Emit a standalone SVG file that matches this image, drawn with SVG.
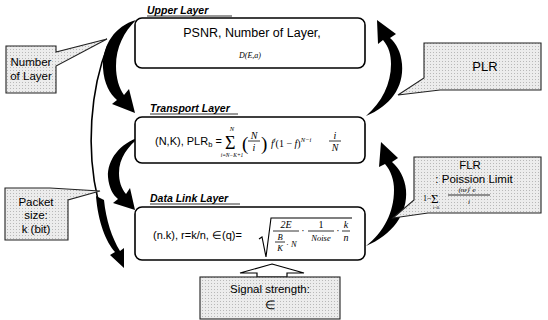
<svg xmlns="http://www.w3.org/2000/svg" width="548" height="320" viewBox="0 0 548 320">
<style>
.box{fill:#fff;stroke:#000;stroke-width:1.6}
.call{fill:url(#dots);stroke:#222;stroke-width:1.1}
.lbl{font-family:"Liberation Sans",Arial,sans-serif;font-weight:bold;font-style:italic;font-size:10.5px}
.t{font-family:"Liberation Sans",Arial,sans-serif;font-size:12.5px}
.ct{font-family:"Liberation Sans",Arial,sans-serif;font-size:11.5px;text-anchor:middle}
.m{font-family:"Liberation Serif","Times New Roman",serif;font-style:italic;font-size:10px}
.mr{font-family:"Liberation Serif","Times New Roman",serif;font-size:10px}
.s{font-size:6.5px}
.c{text-anchor:middle}
.arr{fill:#000}
.ln{stroke:#000;stroke-width:0.8;fill:none}
</style>
<defs>
<pattern id="dots" width="3" height="3" patternUnits="userSpaceOnUse">
<rect width="3" height="3" fill="#ececec"/>
<rect x="1" y="1" width="1" height="1" fill="#b8b8b8"/>
</pattern>
</defs>
<rect width="548" height="320" fill="#fff"/>

<g id="connectors">
<path class="arr" d="M136,20 C115,26 102,45 103,68 C104,84 110,94 117,100 L112,104 L135,113 L129,89 L124,95 C119,88 116,78 116,66 C116,47 124,32 136,20 Z"/>
<path class="arr" d="M140,137 C120,143 107,160 108,177 C109,188 113,195 118,199 L113,203 L135,210 L130,188 L126,194 C121,188 119,181 119,173 C119,158 128,146 140,137 Z"/>
<path d="M108,45 C90,90 86,150 98,200" fill="none" stroke="#000" stroke-width="1.6"/>
<path class="arr" d="M96,196 C98,222 106,242 115,252 L110,255 L124,268 L124,248 L120,251 C112,238 106,220 104,200 Z"/>
<path class="arr" d="M366,116 C390,106 404,88 402,64 C401,52 396,43 390,38 L396,34 L377,20 L378,44 L383,40 C389,47 391,55 391,64 C391,84 382,102 366,116 Z"/>
<path class="arr" d="M366,246 C392,235 408,214 406,190 C405,178 399,168 392,162 L398,158 L381,142 L379,167 L385,164 C391,171 394,180 394,190 C394,212 384,232 366,246 Z"/>
<path d="M272,264 L304,273 H287 V277 H257 V273 H240 Z" fill="#fff" stroke="#000" stroke-width="1.2"/>
</g>

<g id="upper">
<rect class="box" x="135" y="18" width="230" height="50" rx="7"/>
<text class="lbl" x="147" y="14">Upper Layer</text>
<line class="ln" x1="147" y1="16" x2="232" y2="16"/>
<text class="t c" x="252" y="37">PSNR, Number of Layer,</text>
<text class="m c" x="250" y="58" style="font-size:8px">D(E,a)</text>
</g>

<g id="transport">
<rect class="box" x="135" y="117" width="230" height="46" rx="7"/>
<text class="lbl" x="150" y="112">Transport Layer</text>
<line class="ln" x1="150" y1="114" x2="238" y2="114"/>
<text class="t" x="155" y="145" style="font-size:11px">(N,K), PLR<tspan dy="2" style="font-size:7.5px">b</tspan><tspan dy="-2"> =</tspan></text>
<text class="mr" x="225" y="149" style="font-size:18px">Σ</text>
<text class="m c s" x="232" y="131">N</text>
<text class="m c" x="232" y="157" style="font-size:5.5px">i=N−K+1</text>
<text class="mr" x="242" y="150" style="font-size:19px">(</text>
<text class="m c" x="254" y="139">N</text>
<line class="ln" x1="248" y1="141" x2="260" y2="141"/>
<text class="m c" x="254" y="151">i</text>
<text class="mr" x="261" y="150" style="font-size:19px">)</text>
<text class="m" x="271" y="147">f<tspan class="s" dy="-5">i</tspan><tspan dy="5" style="font-style:normal">(1 − </tspan>f<tspan style="font-style:normal">)</tspan><tspan class="s" dy="-5">N−i</tspan></text>
<text class="m c" x="335" y="139">i</text>
<line class="ln" x1="329" y1="141" x2="341" y2="141"/>
<text class="m c" x="335" y="151">N</text>
</g>

<g id="datalink">
<rect class="box" x="135" y="207" width="230" height="53" rx="7"/>
<text class="lbl" x="150" y="202">Data Link Layer</text>
<line class="ln" x1="150" y1="204" x2="240" y2="204"/>
<text class="t" x="153" y="239" style="font-size:11px">(n.k), r=k/n, ∈(q)=</text>
<path d="M259,239 L262,237 L266,257 L271,218 H352" fill="none" stroke="#000" stroke-width="1.1"/>
<text class="m c" x="286" y="228">2E</text>
<line class="ln" x1="273" y1="231" x2="299" y2="231"/>
<text class="m c" x="280" y="240" style="font-size:8.5px">B</text>
<line class="ln" x1="275" y1="242" x2="285" y2="242"/>
<text class="m c" x="280" y="251" style="font-size:8.5px">K</text>
<text class="m" x="286" y="247" style="font-size:8.5px"><tspan style="font-style:normal">·</tspan> N</text>
<text class="mr c" x="303" y="234">·</text>
<text class="mr c" x="321" y="228">1</text>
<line class="ln" x1="308" y1="231" x2="334" y2="231"/>
<text class="m c" x="321" y="241" style="font-size:8.5px">Noise</text>
<text class="mr c" x="338" y="234">·</text>
<text class="m c" x="346" y="228">k</text>
<line class="ln" x1="342" y1="231" x2="350" y2="231"/>
<text class="m c" x="346" y="241">n</text>
</g>

<g id="number-of-layer">
<path class="call" d="M6,46 H56 V52 L107,39 L56,66 V93 H6 Z"/>
<text class="ct" x="31" y="66">Number</text>
<text class="ct" x="31" y="80">of Layer</text>
</g>

<g id="plr">
<path class="call" d="M424,43 H541 V90 H440 L398,95 L424,78 Z"/>
<text class="ct" x="485" y="71" style="font-size:13px">PLR</text>
</g>

<g id="flr">
<path class="call" d="M414,157 H541 V213 H428 L393,218 L414,200 Z"/>
<text class="ct" x="470" y="169">FLR</text>
<text class="ct" x="474" y="183">: Poission Limit</text>
<text class="mr" x="423" y="201" style="font-size:8px">1−</text>
<text class="mr" x="431" y="203" style="font-size:13px">Σ</text>
<text class="mr c" x="436" y="209" style="font-size:4.5px">i=0</text>
<text class="m c" x="467" y="192" style="font-size:7px">(nε)<tspan dy="-3" style="font-size:5px">i</tspan><tspan dy="3"> e</tspan></text>
<line class="ln" x1="448" y1="195" x2="490" y2="195"/>
<text class="m c" x="469" y="204" style="font-size:7px">i</text>
</g>

<g id="packet-size">
<path class="call" d="M5,188 H50 L100,191 L68,200 V240 H5 Z"/>
<text class="ct" x="36" y="206">Packet</text>
<text class="ct" x="36" y="219">size:</text>
<text class="ct" x="36" y="233">k (bit)</text>
</g>

<g id="signal">
<rect class="call" x="200" y="277" width="140" height="42"/>
<text class="ct" x="270" y="293">Signal strength:</text>
<text class="ct" x="270" y="309">∈</text>
</g>
</svg>
